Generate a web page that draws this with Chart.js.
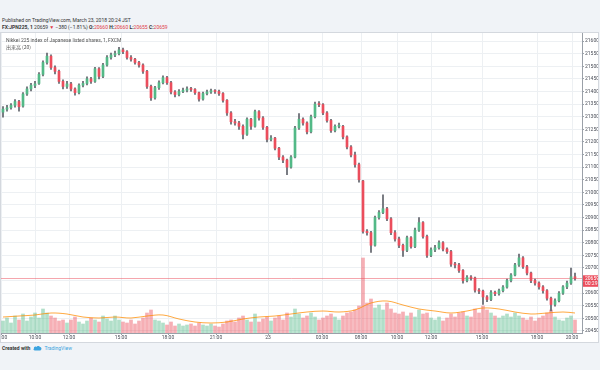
<!DOCTYPE html>
<html>
<head>
<meta charset="utf-8">
<script src="https://cdn.jsdelivr.net/npm/chart.js@4.4.1/dist/chart.umd.min.js"></script>
<style>
  html, body { margin: 0; padding: 0; }
  body { width: 600px; height: 370px; background: #f0f3f7; position: relative; overflow: hidden; font-family: Roboto, "Noto Sans", sans-serif; color: #333; }
  .hdr { position: absolute; left: 2px; font-size: 5px; white-space: nowrap; }
  .red { color: #e03a45; }
  #frame { position: absolute; left: 0; top: 32px; width: 599px; height: 311px; box-sizing: border-box; border: 1px solid #d4d8de; background: #fff; }
  #wrap { position: absolute; left: 0; top: 0; width: 597px; height: 309px; }
  .leg { position: absolute; left: 5px; font-size: 5px; color: #555; white-space: nowrap; }
  #foot { position: absolute; left: 2px; top: 345px; font-size: 5px; white-space: nowrap; display: flex; align-items: center; }
</style>
</head>
<body>
<div class="hdr" style="top:17px">Published on TradingView.com, March 23, 2018 20:24 JST</div>
<div class="hdr" style="top:24px"><b>FX:JPN225, 1</b> 20659 <span class="red">&#9660;</span> &minus;380 (&minus;1.81%) <b>O:</b><span class="red">20660</span> <b>H:</b><span class="red">20660</span> <b>L:</b><span class="red">20655</span> <b>C:</b><span class="red">20659</span></div>
<div id="frame">
  <div id="wrap"><canvas id="myChart"></canvas></div>
  <div class="leg" style="top:4px">Nikkei 225 index of Japanese listed shares, 1, FXCM</div>
  <div class="leg" style="top:10px;font-family:'Noto Sans CJK JP'">出来高 (20)</div>
</div>
<div id="foot"><b>Created with</b>
  <svg width="9" height="6" viewBox="0 0 18 12" style="margin:0 2px 0 3px"><path d="M4 11 C1 11 0 8 2 7 C1 4 5 2 7 4 C8 1 13 1 14 4 C17 4 18 8 16 10 C15 11 14 11 13 11 Z" fill="#3ba4e0"/></svg>
  <span style="color:#3ba4e0">TradingView</span></div>
<script>
// 4-bar candles, bar index 0..143
const opens = [21318,21330,21336,21345,21360,21342,21390,21410,21424,21432,21468,21515,21540,21495,21480,21440,21420,21430,21410,21395,
  21425,21432,21450,21440,21490,21460,21505,21535,21545,21550,21565,21558,21535,21528,21515,21505,21480,21420,21375,21415,
  21435,21455,21435,21398,21388,21400,21405,21410,21408,21395,21370,21392,21398,21403,21400,21392,21365,21315,21280,21275,
  21262,21230,21290,21262,21320,21295,21258,21210,21215,21175,21140,21128,21100,21140,21255,21290,21275,21240,21300,21350,
  21348,21315,21285,21245,21262,21262,21220,21180,21148,21110,21045,20845,20840,20790,20900,20920,20935,20895,20840,20815,
  20790,20770,20820,20785,20850,20880,20825,20750,20772,20780,20800,20775,20765,20715,20712,20690,20650,20663,20660,20612,
  20608,20585,20575,20603,20598,20610,20624,20650,20672,20712,20740,20705,20680,20650,20640,20625,20610,20580,20555,20570,
  20600,20625,20640,20665];
const highs = [21340,21345,21352,21368,21365,21396,21418,21432,21440,21475,21522,21552,21545,21502,21485,21446,21440,21436,21415,21430,
  21440,21458,21456,21496,21495,21512,21542,21552,21560,21575,21572,21562,21542,21532,21520,21510,21484,21425,21420,21442,
  21462,21460,21440,21404,21408,21414,21418,21416,21412,21398,21398,21406,21410,21408,21406,21396,21368,21320,21290,21282,
  21268,21296,21294,21326,21324,21300,21262,21225,21218,21178,21146,21132,21146,21262,21312,21296,21280,21306,21358,21360,
  21352,21320,21290,21268,21275,21266,21224,21185,21160,21116,21048,20852,20845,20906,20928,20990,20940,20900,20848,20822,
  20795,20826,20824,20858,20900,20884,20830,20780,20790,20808,20805,20780,20770,20722,20718,20694,20670,20670,20664,20618,
  20612,20590,20610,20608,20616,20630,20656,20678,20718,20755,20745,20710,20684,20656,20645,20630,20614,20584,20578,20606,
  20630,20648,20700,20680];
const lows = [21298,21322,21330,21338,21322,21338,21384,21402,21415,21428,21462,21508,21488,21470,21432,21410,21412,21402,21385,21390,
  21418,21426,21432,21436,21450,21455,21500,21528,21538,21545,21550,21528,21520,21508,21496,21472,21412,21365,21370,21408,
  21430,21428,21390,21378,21382,21395,21398,21400,21388,21362,21366,21386,21392,21392,21384,21358,21305,21270,21266,21250,
  21212,21226,21250,21258,21286,21250,21200,21204,21168,21130,21118,21070,21096,21136,21250,21266,21232,21236,21295,21340,
  21308,21278,21238,21240,21255,21212,21172,21140,21100,21040,20838,20830,20762,20786,20894,20915,20888,20832,20806,20780,
  20746,20765,20778,20780,20845,20818,20742,20745,20765,20775,20768,20758,20706,20700,20682,20640,20645,20652,20604,20598,
  20555,20566,20570,20590,20592,20605,20620,20645,20668,20706,20698,20672,20642,20632,20616,20600,20572,20530,20548,20565,
  20595,20618,20635,20652];
const closes = [21330,21335,21345,21360,21340,21390,21410,21425,21430,21468,21515,21540,21495,21480,21440,21420,21430,21410,21395,21425,
  21432,21450,21440,21490,21460,21505,21535,21545,21550,21565,21558,21535,21528,21515,21505,21480,21420,21375,21415,21435,
  21455,21435,21398,21388,21400,21405,21410,21408,21395,21370,21392,21398,21403,21400,21392,21365,21315,21280,21275,21262,
  21230,21290,21262,21320,21295,21258,21210,21215,21175,21140,21128,21100,21140,21255,21290,21275,21240,21300,21350,21348,
  21315,21285,21245,21262,21262,21220,21180,21148,21110,21050,20845,20840,20790,20900,20920,20935,20895,20840,20815,20790,
  20770,20820,20785,20850,20880,20825,20750,20772,20780,20800,20775,20765,20715,20712,20690,20650,20663,20660,20612,20608,
  20585,20575,20603,20598,20610,20624,20650,20672,20712,20740,20705,20680,20650,20640,20625,20610,20580,20555,20570,20600,
  20625,20640,20665,20659];
const volumes = [12,15,10,17,13,19,12,16,20,15, 24,20,17,15,12,13,10,13,16,11, 9,12,15,13,11,17,14,12,17,13,
  11,10,13,9,12,15,20,23,13,12, 10,8,11,7,9,7,8,9,7,10, 8,7,9,7,6,9,12,13,11,15,
  17,13,11,19,11,14,16,12,15,17, 13,20,16,24,19,15,17,20,16,13, 15,17,19,16,13,17,20,21,23,27,
  75,30,34,25,28,23,30,24,20,19, 21,17,20,16,23,19,20,15,13,16, 12,15,19,16,20,21,17,16,24,20,
  27,23,20,17,15,17,19,16,20,17, 15,13,16,12,15,17,20,23,16,13, 12,15,17,13];
const maBars = [0,4,8,12,16,20,24,28,32,36,40,44,48,52,56,60,64,68,72,76,80,84,88,92,96,100,104,108,112,116,120,124,128,132,136,140,143];
const volMA = [16,17,18,20,19,16,15,16,15,17,18,14,11,10,11,14,16,17,19,21,22,21,23,30,32,28,24,22,20,22,25,24,21,19,20,21,20];
const tickBars = [-0.5,8,16.5,29.5,41.25,53.25,66.25,79.75,89.5,98.5,107,119.75,133.5,142.25];
const tickLabels = ['08:00','10:00','12:00','15:00','18:00','21:00','23','03:00','08:00','10:00','12:00','15:00','18:00','20:00'];
const priceTicks = [20450,20500,20550,20600,20650,20700,20750,20800,20850,20900,20950,21000,
  21050,21100,21150,21200,21250,21300,21350,21400,21450,21500,21550,21600];
const countdown = '00:29';

const up = closes.map((c, i) => c >= opens[i]);
const font = { family: 'Roboto', size: 5 };

const lastPrice = {
  id: 'lastPrice',
  beforeDatasetsDraw(chart) {
    const { ctx, chartArea, scales } = chart;
    const y = Math.round(scales.y.getPixelForValue(closes[closes.length - 1])) + 0.5;
    ctx.save();
    ctx.strokeStyle = 'rgba(235,77,92,0.5)';
    ctx.lineWidth = 1;
    ctx.beginPath();
    ctx.moveTo(chartArea.left, y);
    ctx.lineTo(chartArea.right, y);
    ctx.stroke();
    ctx.restore();
  },
  afterDraw(chart) {
    const { ctx, chartArea, scales, width } = chart;
    const y = scales.y.getPixelForValue(closes[closes.length - 1]);
    ctx.save();
    ctx.fillStyle = '#eb4d5c';
    ctx.fillRect(chartArea.right + 1, y - 3, width - chartArea.right - 1, 6);
    ctx.fillRect(chartArea.right + 1, y + 3, width - chartArea.right - 1, 5.5);
    ctx.fillStyle = '#fff';
    ctx.font = '5px Roboto';
    ctx.textBaseline = 'middle';
    ctx.fillText(String(closes[closes.length - 1]), chartArea.right + 3, y);
    ctx.fillText(countdown, chartArea.right + 3, y + 5.8);
    ctx.restore();
  }
};

new Chart(document.getElementById('myChart'), {
  type: 'bar',
  data: {
    datasets: [
      {
        label: 'body',
        data: opens.map((o, i) => ({ x: i, y: [o, closes[i]] })),
        backgroundColor: up.map(u => u ? '#53b987' : '#eb4d5c'),
        barThickness: 2,
        minBarLength: 1,
        grouped: false,
        yAxisID: 'y',
        order: 0
      },
      {
        label: 'wick',
        data: lows.map((l, i) => ({ x: i, y: [l, highs[i]] })),
        backgroundColor: '#5f626a',
        barThickness: 1,
        grouped: false,
        yAxisID: 'y',
        order: 1
      },
      {
        type: 'line',
        label: 'ma',
        data: maBars.map((b, k) => ({ x: b, y: volMA[k] })),
        borderColor: 'rgba(255,140,0,0.75)',
        borderWidth: 1,
        pointRadius: 0,
        tension: 0.35,
        yAxisID: 'yv',
        order: 2
      },
      {
        label: 'vol',
        data: volumes.map((v, i) => ({ x: i, y: v })),
        backgroundColor: up.map(u => u ? 'rgba(83,185,135,0.45)' : 'rgba(235,77,92,0.45)'),
        barThickness: 3,
        grouped: false,
        yAxisID: 'yv',
        order: 3
      }
    ]
  },
  options: {
    responsive: true,
    maintainAspectRatio: false,
    animation: false,
    devicePixelRatio: 1,
    layout: { padding: { left: 0, right: 0, top: 0, bottom: 0 } },
    plugins: { legend: { display: false }, tooltip: { enabled: false } },
    scales: {
      x: {
        type: 'linear',
        offset: false,
        min: -0.5,
        max: 144.75,
        afterBuildTicks: s => { s.ticks = tickBars.map(v => ({ value: v })); },
        afterFit: s => { s.height = 9; s.paddingLeft = 0; s.paddingRight = 0; },
        ticks: { autoSkip: false, maxRotation: 0, padding: 0, font, color: '#4a4e58', callback: (v, i) => tickLabels[i] },
        grid: { offset: false, color: '#edf0f3', tickLength: 2, tickColor: '#9aa0a8' },
        border: { color: '#9aa0a8' }
      },
      y: {
        position: 'right',
        min: 20442,
        max: 21632,
        afterBuildTicks: s => { s.ticks = priceTicks.map(v => ({ value: v })); },
        afterFit: s => { s.width = 16; s.paddingTop = 0; s.paddingBottom = 0; },
        ticks: { padding: 1, font, color: '#4a4e58', callback: v => String(v) },
        grid: { color: '#edf0f3', tickLength: 2, tickColor: '#9aa0a8' },
        border: { color: '#9aa0a8' }
      },
      yv: { display: false, min: 0, max: 300 }
    }
  },
  plugins: [lastPrice]
});
</script>
</body>
</html>
